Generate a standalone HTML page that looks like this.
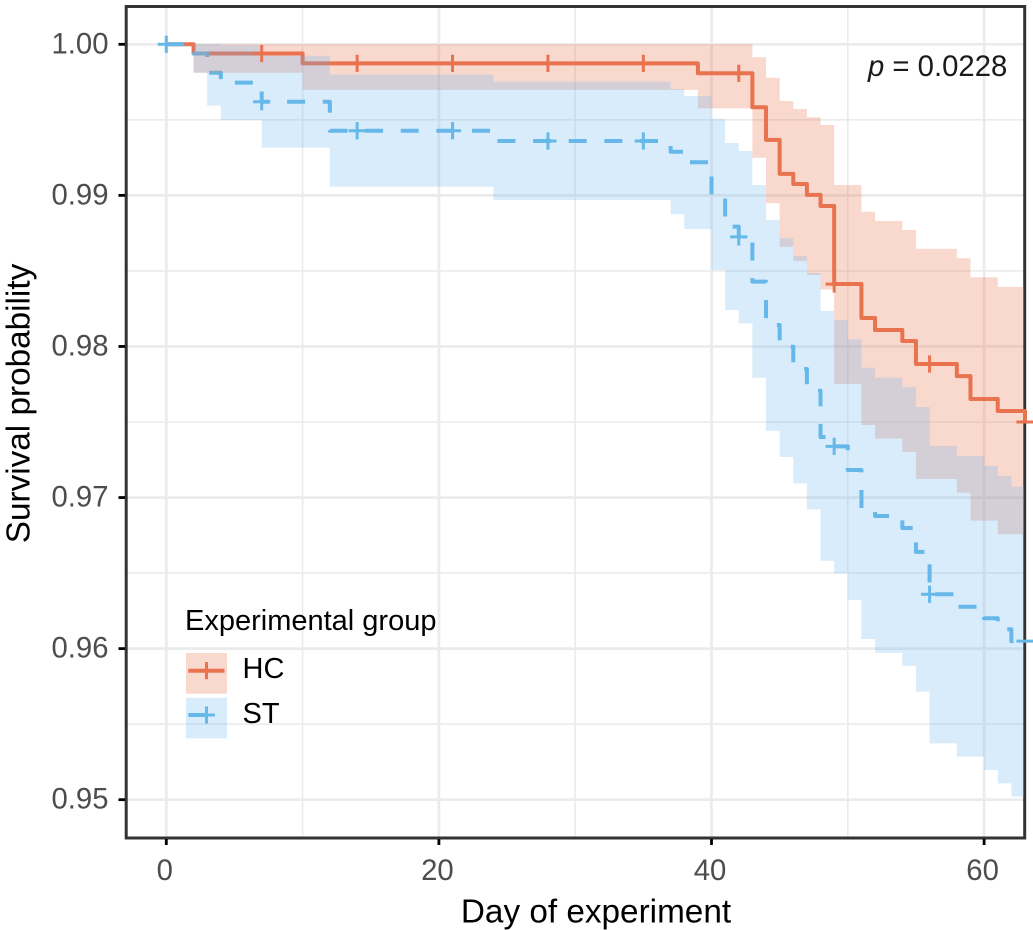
<!DOCTYPE html>
<html lang="en">
<head>
<meta charset="utf-8">
<title>Survival probability by experimental group</title>
<style>
html,body{margin:0;padding:0;background:#fff;}
svg{display:block;font-family:"Liberation Sans",Arial,sans-serif;}
</style>
</head>
<body>
<svg id="chart" xmlns="http://www.w3.org/2000/svg" width="1033" height="930" viewBox="0 0 1033 930">
  <defs>
    <clipPath id="panel-clip"><rect x="127" y="8" width="897" height="829"/></clipPath>
  </defs>
  <rect x="0" y="0" width="1033" height="930" fill="#ffffff"/>
  <g id="grid" clip-path="url(#panel-clip)"></g>
  <rect x="126.2" y="6.5" width="898.5" height="831.5" fill="none" stroke="#333333" stroke-width="3"/>
  <g id="ticks"></g>
  <g id="lines"></g>
  <g id="ribbons" clip-path="url(#panel-clip)"></g>
  <g id="marks"></g>
  <text x="868" y="76" font-size="29.3" fill="#1a1a1a"><tspan font-style="italic">p</tspan> = 0.0228</text>
  <text transform="translate(29.5,403.5) rotate(-90)" text-anchor="middle" font-size="33.3" fill="#000">Survival probability</text>
  <text x="596" y="922.7" text-anchor="middle" font-size="33.3" fill="#000">Day of experiment</text>
  <g>
    <text x="185" y="630" font-size="29" fill="#000">Experimental group</text>
    <rect x="186" y="653" width="41" height="40.7" fill="#e9724f" fill-opacity="0.28"/>
    <rect x="186" y="697.7" width="41" height="40.7" fill="#68b4ee" fill-opacity="0.25"/>
    <line x1="188.3" y1="670.7" x2="224.5" y2="670.7" stroke="#e9724f" stroke-width="4"/>
    <line x1="198" y1="670.7" x2="215" y2="670.7" stroke="#e9724f" stroke-width="3"/>
    <line x1="206.5" y1="662" x2="206.5" y2="679.2" stroke="#e9724f" stroke-width="3"/>
    <line x1="188.3" y1="715" x2="206.3" y2="715" stroke="#66b8e8" stroke-width="4"/>
    <line x1="198" y1="715" x2="215" y2="715" stroke="#66b8e8" stroke-width="3"/>
    <line x1="206.5" y1="706.4" x2="206.5" y2="723.6" stroke="#66b8e8" stroke-width="3"/>
    <text x="242.5" y="678" font-size="29" fill="#000">HC</text>
    <text x="242.5" y="723" font-size="29" fill="#000">ST</text>
  </g>
</svg>
<script>
// Axis tick values
const xMajorTicks = [0, 20, 40, 60];
const xMinorTicks = [10, 30, 50];
const yMajorTicks = [1.00, 0.99, 0.98, 0.97, 0.96, 0.95];
const yMinorTicks = [0.995, 0.985, 0.975, 0.965, 0.955];
const xTickLabels = ["0", "20", "40", "60"];
const yTickLabels = ["1.00", "0.99", "0.98", "0.97", "0.96", "0.95"];

// HC survival steps
const hcDays = [0, 2, 10, 39, 43, 44, 45, 46, 47, 48, 49, 51, 52, 54, 55, 58, 59, 61, 63];
const hcSurvival = [1, 0.99939, 0.99874, 0.99808, 0.99583, 0.99367, 0.99142, 0.99075, 0.99003, 0.9893, 0.98413, 0.98188, 0.98109, 0.98036, 0.97884, 0.97804, 0.97652, 0.97573, 0.975];
const hcUpperDays = [0, 43, 44, 45, 46, 47, 48, 49, 51, 52, 54, 55, 58, 59, 61];
const hcUpper = [1, 0.99914, 0.99779, 0.99625, 0.99572, 0.99517, 0.99466, 0.99069, 0.98892, 0.9883, 0.98771, 0.98647, 0.98584, 0.98458, 0.98394];
const hcLowerDays = [0, 2, 10, 39, 43, 44, 45, 46, 47, 48, 49, 51, 52, 54, 55, 58, 59, 61];
const hcLower = [1, 0.99812, 0.99698, 0.99576, 0.99249, 0.98948, 0.9866, 0.98566, 0.98473, 0.98378, 0.97752, 0.9748, 0.9739, 0.97301, 0.97123, 0.97032, 0.96847, 0.96757];

// ST survival steps
const stDays = [0, 2, 3, 4, 7, 12, 24, 37, 38, 40, 41, 42, 43, 44, 45, 46, 47, 48, 49, 50, 51, 52, 54, 55, 56, 58, 60, 61, 62];
const stSurvival = [1, 0.99939, 0.99812, 0.99746, 0.9962, 0.99428, 0.9936, 0.99289, 0.99219, 0.98996, 0.98793, 0.98725, 0.98429, 0.98142, 0.97998, 0.97851, 0.97707, 0.97401, 0.97339, 0.97182, 0.96918, 0.96878, 0.96798, 0.9664, 0.9636, 0.96277, 0.96201, 0.96128, 0.9605];
const stUpperDays = [0, 4, 7, 12, 24, 37, 38, 40, 41, 42, 43, 44, 45, 46, 47, 48, 49, 50, 51, 52, 54, 55, 56, 58, 60, 61, 62];
const stUpper = [1, 0.99992, 0.99923, 0.998, 0.99752, 0.99704, 0.99658, 0.99506, 0.99347, 0.99294, 0.99069, 0.98837, 0.98716, 0.98599, 0.98486, 0.98235, 0.98175, 0.98047, 0.97859, 0.97793, 0.9773, 0.97599, 0.97341, 0.97275, 0.97209, 0.97143, 0.97072];
const stLowerDays = [0, 2, 3, 4, 7, 12, 24, 37, 38, 40, 41, 42, 43, 44, 45, 46, 47, 48, 49, 50, 51, 52, 54, 55, 56, 58, 60, 61, 62];
const stLower = [1, 0.99812, 0.99594, 0.99499, 0.99316, 0.99057, 0.98969, 0.98875, 0.98777, 0.98506, 0.98241, 0.98153, 0.97793, 0.97442, 0.97268, 0.97094, 0.96922, 0.96582, 0.96499, 0.96322, 0.96064, 0.95973, 0.95887, 0.95715, 0.95373, 0.95285, 0.95197, 0.95108, 0.9502];

// Censoring days shared by both groups
const censorDays = [0, 7, 14, 21, 28, 35, 42, 49, 56, 63];
const lastDay = 63;

const NS = "http://www.w3.org/2000/svg";
const xScale = d => 166.3 + d * 13.63;
const yScale = s => 44.3 + (1 - s) * 15108;

function make(tag, parent, attrs) {
  const el = document.createElementNS(NS, tag);
  for (const k in attrs) el.setAttribute(k, attrs[k]);
  parent.appendChild(el);
  return el;
}

function stepAt(days, values, d) {
  let v = values[0];
  for (let i = 0; i < days.length; i++) { if (days[i] <= d) v = values[i]; }
  return v;
}

function stepPath(days, values, endDay) {
  let p = "M" + xScale(days[0]).toFixed(2) + " " + yScale(values[0]).toFixed(2);
  for (let i = 1; i < days.length; i++) {
    p += "H" + xScale(days[i]).toFixed(2) + "V" + yScale(values[i]).toFixed(2);
  }
  if (days[days.length - 1] < endDay) p += "H" + xScale(endDay).toFixed(2);
  return p;
}

function ribbonPath(upDays, up, loDays, lo, endDay) {
  let p = stepPath(upDays, up, endDay);
  p += "V" + yScale(lo[lo.length - 1]).toFixed(2);
  for (let i = loDays.length - 1; i > 0; i--) {
    p += "H" + xScale(loDays[i]).toFixed(2) + "V" + yScale(lo[i - 1]).toFixed(2);
  }
  p += "H" + xScale(loDays[0]).toFixed(2) + "Z";
  return p;
}

// Grid
const grid = document.getElementById("grid");
yMinorTicks.forEach(v => {
  const el = make("line", grid, {x1: 127, x2: 1024, y1: yScale(v), y2: yScale(v), stroke: "#ebebeb", "stroke-width": 1.6});
  
  
});
xMinorTicks.forEach(v => {
  const el = make("line", grid, {x1: xScale(v), x2: xScale(v), y1: 8, y2: 837, stroke: "#ebebeb", "stroke-width": 1.6});
  
  
});
yMajorTicks.forEach(v => {
  const el = make("line", grid, {x1: 127, x2: 1024, y1: yScale(v), y2: yScale(v), stroke: "#ebebeb", "stroke-width": 2.7});
  
  
});
xMajorTicks.forEach(v => {
  const el = make("line", grid, {x1: xScale(v), x2: xScale(v), y1: 8, y2: 837, stroke: "#ebebeb", "stroke-width": 2.7});
  
  
});

// Ticks and labels
const ticks = document.getElementById("ticks");
yMajorTicks.forEach((v, i) => {
  const t = make("line", ticks, {x1: 118.5, x2: 125, y1: yScale(v), y2: yScale(v), stroke: "#000", "stroke-width": 2.8});
  
  
  const l = make("text", ticks, {x: 108.5, y: yScale(v) + 9, "text-anchor": "end", "font-size": 29.3, fill: "#4d4d4d"});
  
  
  l.textContent = yTickLabels[i];
});
xMajorTicks.forEach((v, i) => {
  const t = make("line", ticks, {x1: xScale(v), x2: xScale(v), y1: 839, y2: 845, stroke: "#000", "stroke-width": 2.8});
  
  
  const l = make("text", ticks, {x: xScale(v) - 1.5, y: 880, "text-anchor": "middle", "font-size": 29.3, fill: "#4d4d4d"});
  
  
  l.textContent = xTickLabels[i];
});

// Lines sit underneath the translucent ribbons
const lines = document.getElementById("lines");
const hcLine = make("path", lines, {d: stepPath(hcDays, hcSurvival, lastDay), fill: "none", stroke: "#e9724f", "stroke-width": 4, "stroke-linejoin": "round"});


const stLine = make("path", lines, {d: stepPath(stDays, stSurvival, lastDay), fill: "none", stroke: "#66b8e8", "stroke-width": 4, "stroke-linejoin": "round", "stroke-dasharray": "18 17.65"});



// Ribbons
const ribbons = document.getElementById("ribbons");
const hcRibbon = make("path", ribbons, {d: ribbonPath(hcUpperDays, hcUpper, hcLowerDays, hcLower, lastDay), fill: "#e9724f", "fill-opacity": 0.28});


const stRibbon = make("path", ribbons, {d: ribbonPath(stUpperDays, stUpper, stLowerDays, stLower, lastDay), fill: "#68b4ee", "fill-opacity": 0.25});



// Censor marks
const marks = document.getElementById("marks");
function drawMarks(days, values, color, markName) {
  censorDays.forEach(d => {
    if (d === 0 && color === "#e9724f") return;
    const cx = xScale(d), cy = yScale(stepAt(days, values, d));
    const h = make("line", marks, {x1: cx - 8.6, x2: cx + 8.6, y1: cy, y2: cy, stroke: color, "stroke-width": 3});
    
    
    if (d < lastDay) {
      const v = make("line", marks, {x1: cx, x2: cx, y1: cy - 8.6, y2: cy + 8.6, stroke: color, "stroke-width": 3});
      
      
    }
  });
}
drawMarks(hcDays, hcSurvival, "#e9724f", "hc-censor-mark");
drawMarks(stDays, stSurvival, "#66b8e8", "st-censor-mark");
</script>
</body>
</html>
